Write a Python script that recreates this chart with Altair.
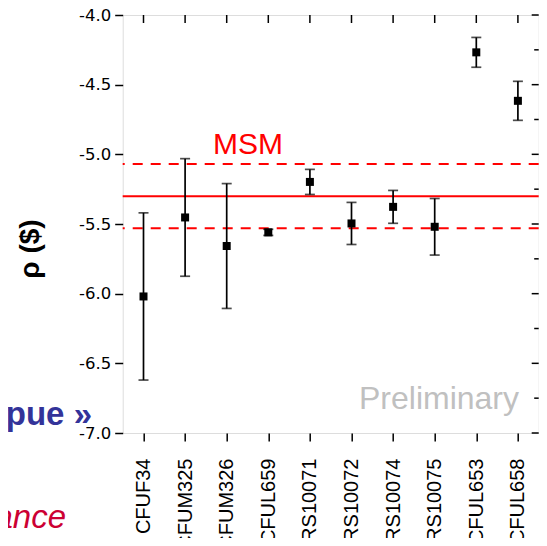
import altair as alt
import pandas as pd

# ---- data ----
categories = ["CFUF34", "CFUM325", "CFUM326", "CFUL659", "RS10071",
              "RS10072", "RS10074", "RS10075", "CFUL653", "CFUL658"]
rho = [-6.02, -5.453, -5.658, -5.56, -5.198, -5.496, -5.377, -5.52, -4.268, -4.616]
err = [0.60, 0.422, 0.448, 0.022, 0.09, 0.151, 0.118, 0.203, 0.107, 0.14]

msm_center = [-5.30]
msm_band = [-5.07, -5.53]

y_tick_values = [-7.0, -6.75, -6.5, -6.25, -6.0, -5.75, -5.5, -5.25,
                 -5.0, -4.75, -4.5, -4.25, -4.0]

msm_label = ["MSM"]
prelim_label = ["Preliminary"]
y_title = ["ρ ($)"]
slide_text_1 = ["pue »"]
slide_text_2 = ["ance"]

W, H = 416, 418

df = pd.DataFrame({"cat": categories, "rho": rho, "err": err})
df["lo"] = df["rho"] - df["err"]
df["hi"] = df["rho"] + df["err"]

ticks_df = pd.DataFrame({"v": y_tick_values})
ticks_df["major"] = [abs(round(v * 4)) % 2 == 0 for v in y_tick_values]

xscale = alt.Scale(type="point", domain=categories, padding=0.5)
yscale = alt.Scale(domain=[-7.0, -4.0], nice=False, zero=False)

major_test = "abs(round(datum.value*4)) % 2 == 0"

x_axis = alt.Axis(
    title=None, orient="bottom", tickSize=8, tickWidth=1.5, tickColor="black",
    labelAngle=270, labelFont="Liberation Sans", labelFontSize=20,
    labelColor="black", labelPadding=17, labelOverlap=False, labelBound=False,
    domain=False, grid=False,
)
y_axis = alt.Axis(
    title=None, orient="left", values=y_tick_values,
    tickSize={"condition": {"test": major_test, "value": 8}, "value": 5},
    tickWidth=1.5, tickColor="black",
    labelExpr="abs(round(datum.value*4)) % 2 == 0 ? ((datum.value < 0 ? '-' : '') + format(abs(datum.value), '.1f')) : ''",
    labelFont="DejaVu Sans", labelFontSize=16.5, labelColor="black",
    labelPadding=4, labelOverlap=False, domain=False, grid=False,
)

base = alt.Chart(df)

# MSM band lines
msm_solid = alt.Chart(pd.DataFrame({"y": msm_center})).mark_rule(
    color="#ff0000", strokeWidth=2
).encode(y=alt.Y("y:Q", scale=yscale, axis=y_axis))
msm_dash = alt.Chart(pd.DataFrame({"y": msm_band})).mark_rule(
    color="#ff0000", strokeWidth=2, strokeDash=[10, 8]
).encode(y=alt.Y("y:Q", scale=yscale))

# error bars
bars = base.mark_rule(color="black", strokeWidth=1.7).encode(
    x=alt.X("cat:N", scale=xscale, axis=x_axis, sort=categories),
    y=alt.Y("lo:Q", scale=yscale),
    y2="hi:Q",
)
cap_lo = base.mark_tick(color="black", orient="horizontal", size=10, thickness=1.7).encode(
    x=alt.X("cat:N", scale=xscale, sort=categories),
    y=alt.Y("lo:Q", scale=yscale),
)
cap_hi = base.mark_tick(color="black", orient="horizontal", size=10, thickness=1.7).encode(
    x=alt.X("cat:N", scale=xscale, sort=categories),
    y=alt.Y("hi:Q", scale=yscale),
)
points = base.mark_square(color="black", size=64, opacity=1).encode(
    x=alt.X("cat:N", scale=xscale, sort=categories),
    y=alt.Y("rho:Q", scale=yscale),
)

# inward ticks on the right and top (mirror axes)
right_major = alt.Chart(ticks_df).transform_filter("datum.major").mark_rule(
    color="black", strokeWidth=1.5
).encode(y=alt.Y("v:Q", scale=yscale), x=alt.value(W), x2=alt.value(W - 7))
right_minor = alt.Chart(ticks_df).transform_filter("!datum.major").mark_rule(
    color="black", strokeWidth=1.5
).encode(y=alt.Y("v:Q", scale=yscale), x=alt.value(W), x2=alt.value(W - 4.5))
top_ticks = alt.Chart(pd.DataFrame({"cat": categories})).mark_rule(
    color="black", strokeWidth=1.5
).encode(x=alt.X("cat:N", scale=xscale, sort=categories), y=alt.value(0), y2=alt.value(8))

# annotations
msm_text = alt.Chart(pd.DataFrame({"t": msm_label})).mark_text(
    font="Liberation Sans", fontSize=30, color="#ff0000", align="left", baseline="alphabetic"
).encode(text="t:N", x=alt.value(90.3), y=alt.value(138.5))
prelim_text = alt.Chart(pd.DataFrame({"t": prelim_label})).mark_text(
    font="Liberation Sans", fontSize=32, color="#c0c0c0", align="right", baseline="alphabetic"
).encode(text="t:N", x=alt.value(396.3), y=alt.value(394))
title_text = alt.Chart(pd.DataFrame({"t": y_title})).mark_text(
    font="Liberation Sans", fontSize=28, fontWeight="bold", color="black",
    align="center", baseline="alphabetic", angle=270
).encode(text="t:N", x=alt.value(-84), y=alt.value(234))
slide1 = alt.Chart(pd.DataFrame({"t": slide_text_1})).mark_text(
    font="Liberation Sans", fontSize=33, fontWeight="bold", color="#333399",
    align="right", baseline="alphabetic"
).encode(text="t:N", x=alt.value(-30.7), y=alt.value(410))
slide2 = alt.Chart(pd.DataFrame({"t": slide_text_2})).mark_text(
    font="Liberation Sans", fontSize=33, fontStyle="italic", color="#cc0033",
    align="right", baseline="alphabetic"
).encode(text="t:N", x=alt.value(-56.7), y=alt.value(513))

chart = alt.layer(
    msm_solid, msm_dash, bars, cap_lo, cap_hi, points,
    right_major, right_minor, top_ticks,
    msm_text, prelim_text, title_text, slide1, slide2,
).properties(
    width=W, height=H,
    autosize=alt.AutoSizeParams(type="none"),
    padding={"left": 114.7, "top": 7, "right": 0.3, "bottom": 105},
).configure_view(
    stroke="black", strokeWidth=1.5
).configure(background="white")

chart.save("out.html", embed_options={"renderer": "svg", "actions": False})
